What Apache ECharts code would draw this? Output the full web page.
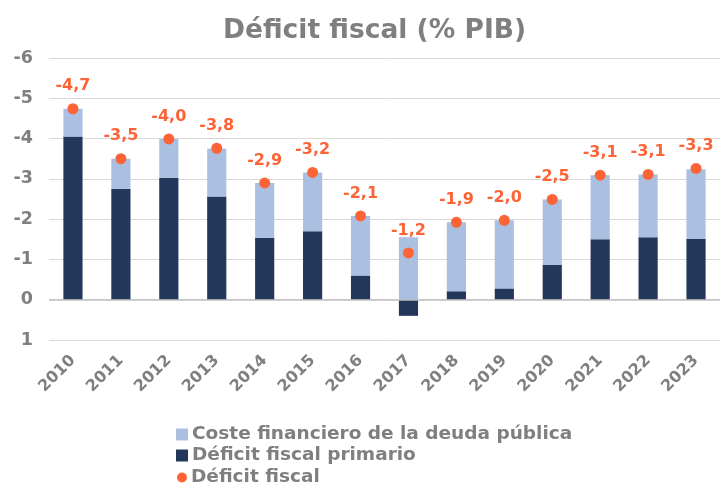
<!DOCTYPE html>
<html>
<head>
<meta charset="utf-8">
<script src="https://cdn.jsdelivr.net/npm/echarts@6/dist/echarts.min.js"></script>
<style>html,body{margin:0;padding:0;background:#fff}#c{width:720px;height:483px}</style>
</head>
<body>
<div id="c"></div>
<script>
const years = ['2010','2011','2012','2013','2014','2015','2016','2017','2018','2019','2020','2021','2022','2023'];
const primario = [-4.05,-2.75,-3.03,-2.56,-1.54,-1.70,-0.60,0.40,-0.21,-0.28,-0.87,-1.50,-1.55,-1.51];
const costeFinanciero = [-0.69,-0.75,-0.96,-1.19,-1.36,-1.46,-1.48,-1.55,-1.71,-1.69,-1.62,-1.59,-1.56,-1.73];
const deficit = [-4.74,-3.50,-3.99,-3.76,-2.90,-3.16,-2.08,-1.16,-1.92,-1.97,-2.49,-3.09,-3.11,-3.26];
const yTicks = {min:-6, max:1, interval:1};

const FONT = 'DejaVu Sans';
const GRAY = '#7f7f7f';
const legendText = {fontFamily:FONT, fontWeight:'bold', fontSize:18.5, color:GRAY, padding:[0,0,0,-1]};
function leg(name, icon, size, left, top){
  return {orient:'vertical', left:left, top:top, itemWidth:size, itemHeight:size, padding:0,
    data:[{name:name, icon:icon}], textStyle:legendText};
}
const chart = echarts.init(document.getElementById('c'));
chart.setOption({
  animation:false,
  title:{text:'Déficit fiscal (% PIB)', left:218, top:13,
    textStyle:{fontFamily:FONT, fontWeight:'bold', fontSize:26.5, color:GRAY}},
  grid:{left:49, width:681, top:58, height:282},
  legend:[leg('Coste financiero de la deuda pública','rect',12,176,425),
          leg('Déficit fiscal primario','rect',12,176,446),
          leg('Déficit fiscal','circle',10,177,468)],
  xAxis:{type:'category', data:years,
    axisLine:{show:false}, axisTick:{show:false},
    axisLabel:{rotate:45, fontFamily:FONT, fontWeight:'bold', fontSize:16, color:GRAY, margin:18}},
  yAxis:{type:'value', inverse:true, min:yTicks.min, max:yTicks.max, interval:yTicks.interval,
    axisLine:{show:false}, axisTick:{show:false},
    splitLine:{lineStyle:{color:'#d9d9d9', width:1}},
    axisLabel:{fontFamily:FONT, fontWeight:'bold', fontSize:17.5, color:GRAY, margin:16}},
  series:[
    {name:'Déficit fiscal primario', type:'bar', stack:'d', data:primario, barWidth:'40%',
      itemStyle:{color:'#22375a'},
      markLine:{silent:true, symbol:'none', label:{show:false},
        lineStyle:{color:'#bfbfbf', type:'solid', width:1.5}, data:[{yAxis:0}]}},
    {name:'Coste financiero de la deuda pública', type:'bar', stack:'d', data:costeFinanciero, barWidth:'40%',
      itemStyle:{color:'#abc0e0'}},
    {name:'Déficit fiscal', type:'scatter', data:deficit, symbolSize:11, z:5,
      itemStyle:{color:'#fc6438', opacity:1},
      label:{show:true, position:'top', distance:9, fontFamily:FONT, fontWeight:'bold', fontSize:16, color:'#fc6438',
        formatter:p=>p.value.toFixed(1).replace('.',',')}}
  ]
});
</script>
</body>
</html>
